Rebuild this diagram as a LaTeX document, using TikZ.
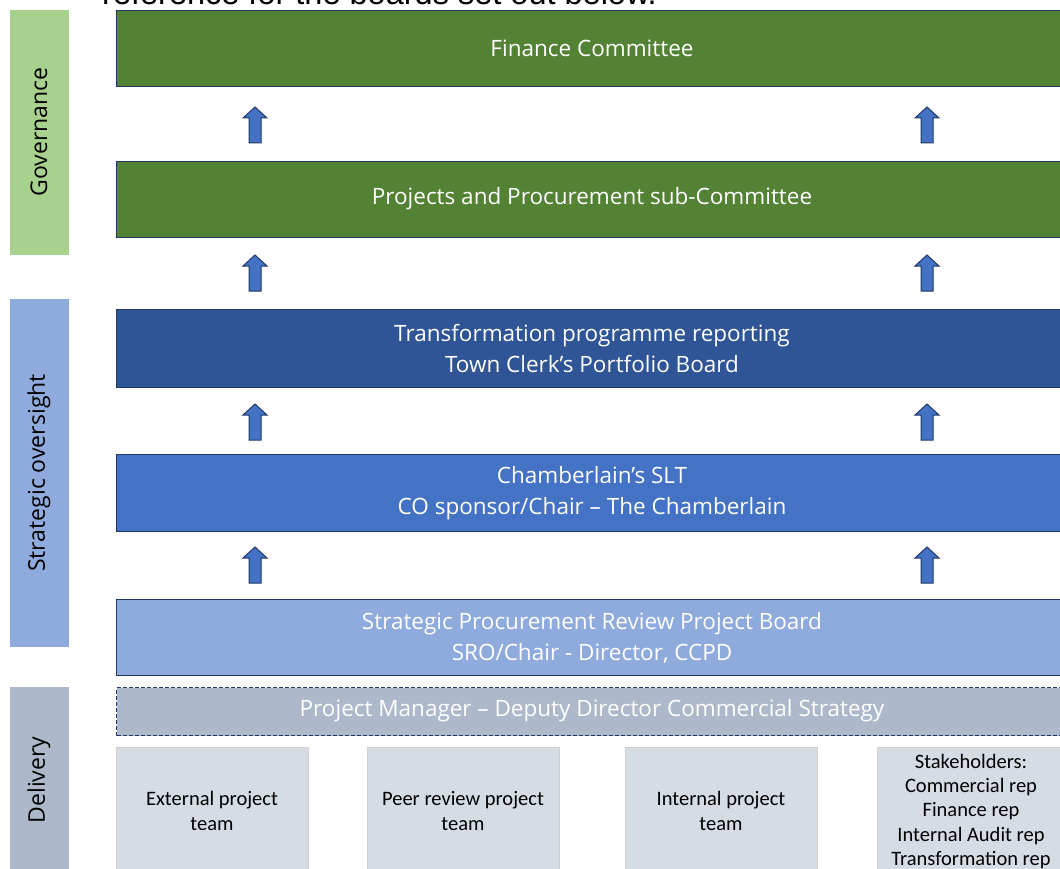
\documentclass[tikz,border=0pt]{standalone}
\usepackage{fontspec}
\setmainfont{Carlito}
\newfontfamily\arialfont{Liberation Sans}
\newfontfamily\opensans{Open Sans}
\definecolor{govgreen}{HTML}{A9D18E}
\definecolor{fingreen}{HTML}{548235}
\definecolor{stratblue}{HTML}{8FAADC}
\definecolor{transblue}{HTML}{2F5597}
\definecolor{sltblue}{HTML}{4472C4}
\definecolor{delgrey}{HTML}{ADB9CA}
\definecolor{teamgrey}{HTML}{D6DCE4}
\definecolor{teamborder}{HTML}{D0CECE}
\definecolor{navyline}{HTML}{203864}
\definecolor{arrowline}{HTML}{1F3864}
\begin{document}
\begin{tikzpicture}[x=1pt,y=-1pt,
  sidebar/.style={anchor=north west, inner sep=0pt, minimum width=59pt},
  sidelabel/.style={rotate=90, font=\opensans\fontsize{23}{28}\selectfont, text=black},
  board/.style={anchor=north west, draw=navyline, line width=1.3pt, minimum width=950pt, inner sep=0pt},
  boardtext/.style={text=white, font=\opensans\fontsize{22.5}{31}\selectfont, align=center},
  team/.style={anchor=north west, fill=teamgrey, draw=teamborder, line width=1pt, minimum width=192pt, minimum height=130pt, inner sep=0pt},
  teamtext/.style={text=black, font=\fontsize{20.5}{24.3}\selectfont, align=center},
  uarrow/.style={fill=sltblue, draw=arrowline, line width=1pt, line join=miter}
]
\useasboundingbox (0,0) rectangle (1060,869);
% clipped heading text
\node[anchor=base west, inner sep=0pt, font=\arialfont\fontsize{32.5}{36}\selectfont] (heading) at (102,4.5) {reference for the boards set out below.};
% side bars
\node[sidebar, fill=govgreen, minimum height=245pt] (gov) at (10,10) {};
\node[sidelabel] (govlabel) at (39,132) {Governance};
\node[sidebar, fill=stratblue, minimum height=348pt] (strat) at (10,299) {};
\node[sidelabel] (stratlabel) at (39,473) {Strategic oversight};
\node[sidebar, fill=delgrey, minimum height=190pt] (del) at (10,687) {};
\node[sidelabel] (dellabel) at (39,780) {Delivery};
% boards
\node[board, fill=fingreen, minimum height=76pt] (fin) at (116,10) {};
\node[boardtext] (fintext) at (592,48) {Finance Committee};
\node[board, fill=fingreen, minimum height=76pt] (ppc) at (116,161) {};
\node[boardtext] (ppctext) at (592,199) {Projects and Procurement sub-Committee};
\node[board, fill=transblue, minimum height=78pt] (tcp) at (116,309) {};
\node[boardtext] (tcptext) at (592,348.5) {Transformation programme reporting\\Town Clerk’s Portfolio Board};
\node[board, fill=sltblue, minimum height=77pt] (slt) at (116,454) {};
\node[boardtext] (slttext) at (592,493) {Chamberlain’s SLT\\CO sponsor/Chair – The Chamberlain};
\node[board, fill=stratblue, minimum height=76pt] (spr) at (116,599) {};
\node[boardtext] (sprtext) at (592,638) {Strategic Procurement Review Project Board\\SRO/Chair - Director, CCPD};
\node[board, fill=delgrey, dashed, dash pattern=on 4pt off 2pt, line width=1.1pt, minimum height=48pt] (pm) at (116,687) {};
\node[boardtext] (pmtext) at (592,711) {Project Manager – Deputy Director Commercial Strategy};
% team boxes
\node[team] (ext) at (116,747) {};
\node[teamtext] (exttext) at (212,811) {External project\\team};
\node[team] (peer) at (367,747) {};
\node[teamtext] (peertext) at (463,811) {Peer review project\\team};
\node[team] (int) at (625,747) {};
\node[teamtext] (inttext) at (721,811) {Internal project\\team};
\node[team] (stake) at (877,747) {};
\node[teamtext] (staketext) at (971,811.5) {Stakeholders:\\Commercial rep\\Finance rep\\Internal Audit rep\\Transformation rep};
% block arrows (bottom centre given)
\foreach \x in {255,927} {
  \foreach \yb in {143,291,440,583} {
    \draw[uarrow] (\x,\yb) ++(-6,0) -- ++(0,-25) -- ++(-6,0) -- ++(12,-11) -- ++(12,11) -- ++(-6,0) -- ++(0,25) -- cycle;
  }
}
\end{tikzpicture}
\end{document}
